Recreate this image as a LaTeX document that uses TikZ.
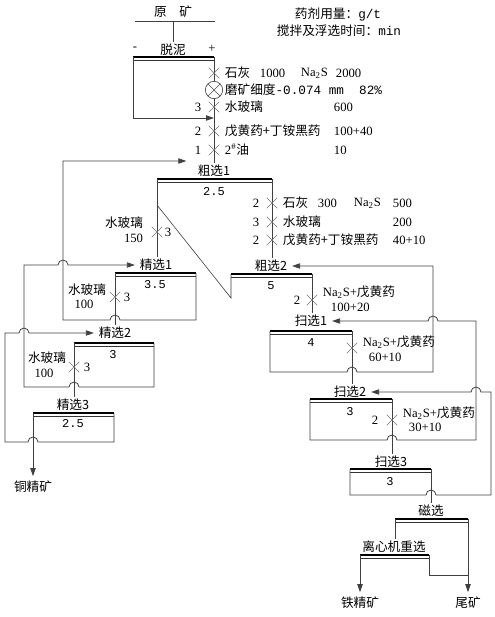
\documentclass[tikz,border=0pt]{standalone}
\usepackage{fontspec}
\setmainfont{Liberation Serif}
\newfontfamily\zh{Noto Sans CJK SC}
\newfontfamily\mono{Liberation Mono}
\usetikzlibrary{arrows.meta,shapes.misc}
\newcommand\figfont{\fontsize{9.5}{11}\selectfont}
\newcommand\zw[1]{{\zh #1}}
% double bar on top of a cell, from (nameL) to (nameR)
\newcommand\cellbar[1]{%
  \draw[barthick] (#1L) -- (#1R);
  \draw[barthin] ([yshift=-2.8pt]#1L) -- ([yshift=-2.8pt]#1R);}
\tikzset{
  flow/.style = {draw=black!75, line width=0.6pt},
  feedto/.style = {flow, -{Triangle[length=6pt,width=4pt]}, shorten >=2pt},
  barthick/.style = {draw=black, line width=2.2pt},
  barthin/.style = {draw=black!80, line width=0.5pt},
  cellname/.style = {inner sep=1.5pt, font=\figfont\zh},
  plain/.style = {inner sep=0.5pt, font=\figfont},
  celltime/.style = {inner sep=0.5pt, font=\fontsize{9}{10}\selectfont\mono},
  dosein/.style = {plain, anchor=west},
  addx/.style = {draw=black!55, line width=0.4pt, cross out,
    minimum size=7.5pt, inner sep=0pt},
  grind/.style = {draw=black!70, line width=0.5pt, circle, fill=white,
    minimum size=13pt, inner sep=0pt,
    path picture={\draw[black!70, line width=0.5pt]
      (path picture bounding box.north west) -- (path picture bounding box.south east)
      (path picture bounding box.north east) -- (path picture bounding box.south west);}}
}

\begin{document}
\begin{tikzpicture}[x=0.75pt, y=-0.75pt]
\fill[white] (0,0) rectangle (495,617);
\useasboundingbox (0,0) rectangle (495,617);

% legend
\node[cellname] (dosage) at (338,14) {药剂用量：{\mono g/t}};
\node[cellname] (timing) at (339,31) {搅拌及浮选时间：{\mono min}};

% ore and desliming
\node[cellname] (ore) at (173,12) {原\hspace{1em}矿};
\coordinate (oreL) at (135,21);
\coordinate (oreR) at (215,21);
\draw[flow] (oreL) -- (oreR);
\node[cellname] (dsl) at (173,50) {脱泥};
\node[plain] (dslminus) at (135,49) {-};
\node[plain] (dslplus) at (212,49) {+};
\coordinate (dslL) at (133,57);
\coordinate (dslR) at (214,57);
\cellbar{dsl}
\draw[flow] (ore.south |- oreL) -- (dsl.north);
\draw[feedto, shorten >=0pt] (dslL) -- (133,118) -- (dslR |- 0,118);

% rougher 1
\node[cellname] (ro1) at (214,171) {粗选1};
\coordinate (ro1L) at (157,179);
\coordinate (ro1R) at (272,179);
\cellbar{ro1}
\node[celltime] (ro1t) at (214,192) {2.5};
\coordinate (ro1in) at (189,161);

% reagents before rougher 1
\draw[flow] (dslR) -- (ro1.north);
\node[addx] (lime1) at (214,73) {};
\node[grind] (mill) at (214,90) {};
\node[addx] (wg1) at (214,107) {};
\node[addx] (col1) at (214,131) {};
\node[addx] (oil1) at (214,150) {};
\node[dosein] (lime1t) at (224,73) {\zw{石灰}};
\node[dosein] (lime1v) at (259,73) {1000};
\node[dosein] (nas1t) at (300,73) {Na\textsubscript{2}S};
\node[dosein] (nas1v) at (335,73) {2000};
\node[dosein] (millt) at (224,90) {\zw{磨矿细度}{\mono -0.074 mm\ \ 82\%}};
\node[plain] (wg1n) at (198,107) {3};
\node[dosein] (wg1t) at (224,107) {\zw{水玻璃}};
\node[dosein] (wg1v) at (333,107) {600};
\node[plain] (col1n) at (198,131) {2};
\node[dosein] (col1t) at (224,131) {\zw{戊黄药+丁铵黑药}};
\node[dosein] (col1v) at (333,131) {100+40};
\node[plain] (oil1n) at (198,150) {1};
\node[dosein] (oil1t) at (224,150) {2\textsuperscript{\#}\zw{油}};
\node[dosein] (oil1v) at (333,150) {10};

% rougher 2
\node[cellname] (ro2) at (271,266) {粗选2};
\coordinate (ro2L) at (231,274);
\coordinate (ro2R) at (312,274);
\cellbar{ro2}
\node[celltime] (ro2t) at (271,286) {5};

\draw[flow] (ro1R) -- (ro1R |- ro2.north);
\draw[flow, line width=0.45pt] (ro1L |- 0,205) -- (ro2L |- 0,298) -- (ro2L);
\node[addx] (lime2) at (272,203) {};
\node[addx] (wg2) at (272,222) {};
\node[addx] (col2) at (272,240) {};
\node[plain] (lime2n) at (256,203) {2};
\node[plain] (wg2n) at (256,222) {3};
\node[plain] (col2n) at (256,240) {2};
\node[dosein] (lime2t) at (282,203) {\zw{石灰}};
\node[dosein] (lime2v) at (317,203) {300};
\node[dosein] (nas2t) at (353,203) {Na\textsubscript{2}S};
\node[dosein] (nas2v) at (392,203) {500};
\node[dosein] (wg2t) at (282,222) {\zw{水玻璃}};
\node[dosein] (wg2v) at (392,222) {200};
\node[dosein] (col2t) at (282,240) {\zw{戊黄药+丁铵黑药}};
\node[dosein] (col2v) at (392,240) {40+10};

% scavengers
\node[cellname] (sc1) at (311,321) {扫选1};
\coordinate (sc1L) at (270,331);
\coordinate (sc1R) at (352,331);
\cellbar{sc1}
\node[celltime] (sc1t) at (311,343) {4};

\node[cellname] (sc2) at (350,392) {扫选2};
\coordinate (sc2L) at (310,399);
\coordinate (sc2R) at (392,399);
\cellbar{sc2}
\node[celltime] (sc2t) at (350,412) {3};

\node[cellname] (sc3) at (391,462) {扫选3};
\coordinate (sc3L) at (350,469);
\coordinate (sc3R) at (431,469);
\cellbar{sc3}
\node[celltime] (sc3t) at (390,482) {3};

\draw[flow] (ro2R) -- (ro2R |- sc1.north);
\node[addx] (xan3) at (312,300) {};
\node[plain] (xan3n) at (297,300) {2};
\node[dosein] (xan3t) at (322,292) {Na\textsubscript{2}S+\zw{戊黄药}};
\node[dosein] (xan3v) at (330,307) {100+20};

\draw[flow] (sc1R) -- (sc1R |- sc2.north);
\node[addx] (xan4) at (352,348) {};
\node[dosein] (xan4t) at (362,342) {Na\textsubscript{2}S+\zw{戊黄药}};
\node[dosein] (xan4v) at (368,357) {60+10};

\draw[flow] (sc2R) -- (sc2R |- sc3.north);
\node[addx] (xan5) at (392,420) {};
\node[plain] (xan5n) at (375,420) {2};
\node[dosein] (xan5t) at (402,413) {Na\textsubscript{2}S+\zw{戊黄药}};
\node[dosein] (xan5v) at (408,427) {30+10};

\draw[feedto] (sc1L) -- (270,372) -- (347,372) arc (180:360:5) -- (433,372)
  -- (433,266) -- (ro2.east);
\draw[feedto] (sc2L) -- (310,440) -- (387,440) arc (180:360:5) -- (476,440)
  -- (476,321) -- (438,321) arc (0:-180:5) -- (sc1.east);
\draw[feedto] (sc3L) -- (350,495) -- (426,495) arc (180:360:5) -- (491,495)
  -- (491,392) -- (481,392) arc (0:-180:5) -- (sc2.east);

% magnetic and gravity separation
\node[cellname] (mag) at (431,511) {磁选};
\coordinate (magL) at (395,519);
\coordinate (magR) at (468,519);
\cellbar{mag}
\node[cellname] (grav) at (394,547) {离心机重选};
\coordinate (gravL) at (360,555);
\coordinate (gravR) at (429,555);
\cellbar{grav}
\node[cellname] (fe) at (360,603) {铁精矿};
\node[cellname] (tail) at (468,603) {尾矿};

\draw[flow] (sc3R) -- (sc3R |- mag.north);
\draw[flow] (magL) -- (magL |- grav.north);
\draw[feedto] (magR) -- (magR |- tail.north);
\draw[feedto] (gravL) -- (gravL |- fe.north);
\draw[flow] (gravR) -- (429,575) -- (magR |- 0,575);

% cleaners
\node[cellname] (cl1) at (156,265) {精选1};
\coordinate (cl1L) at (115,273);
\coordinate (cl1R) at (196,273);
\cellbar{cl1}
\node[celltime] (cl1t) at (155,285) {3.5};

\node[cellname] (cl2) at (115,333) {精选2};
\coordinate (cl2L) at (74,343);
\coordinate (cl2R) at (154,343);
\cellbar{cl2}
\node[celltime] (cl2t) at (113,355) {3};

\node[cellname] (cl3) at (73,405) {精选3};
\coordinate (cl3L) at (33,413);
\coordinate (cl3R) at (114,413);
\cellbar{cl3}
\node[celltime] (cl3t) at (73,424) {2.5};
\node[cellname] (cu) at (33,487) {铜精矿};

\draw[flow] (ro1L) -- (ro1L |- cl1.north);
\node[addx] (wg3) at (157,232) {};
\node[plain] (wg3n) at (168,232) {3};
\node[plain, anchor=east] (wg3t) at (144,223) {\zw{水玻璃}};
\node[plain, anchor=east] (wg3v) at (144,238) {150};

\draw[flow] (cl1L) -- (cl1L |- cl2.north);
\node[addx] (wg4) at (115,297) {};
\node[plain] (wg4n) at (127,297) {3};
\node[plain] (wg4t) at (87,290) {\zw{水玻璃}};
\node[plain] (wg4v) at (84,304) {100};

\draw[flow] (cl2L) -- (cl2L |- cl3.north);
\node[addx] (wg5) at (74,367) {};
\node[plain] (wg5n) at (87,367) {3};
\node[plain] (wg5t) at (47,358) {\zw{水玻璃}};
\node[plain] (wg5v) at (44,373) {100};

\draw[feedto] (cl3L) -- (cl3L |- cu.north);

\draw[feedto] (cl1R) -- (196,320) -- (120,320) arc (0:-180:5) -- (63,320)
  -- (63,161) -- (ro1in);
\draw[feedto] (cl2R) -- (154,387) -- (79,387) arc (0:-180:5) -- (24,387)
  -- (24,265) -- (58,265) arc (180:360:5) -- (cl1.west);
\draw[feedto] (cl3R) -- (114,442) -- (38,442) arc (0:-180:5) -- (5,442)
  -- (5,333) -- (19,333) arc (180:360:5) -- (cl2.west);
\end{tikzpicture}
\end{document}
